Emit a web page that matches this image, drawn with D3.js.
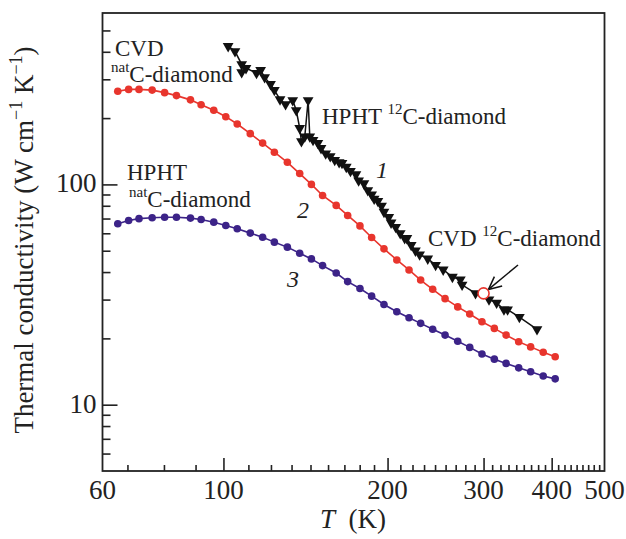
<!DOCTYPE html>
<html>
<head>
<meta charset="utf-8">
<script src="https://cdn.jsdelivr.net/npm/d3@7"></script>
<style>
  body { margin: 0; background: #fff; }
  svg text { font-family: "Liberation Serif", "Times New Roman", serif; fill: #222; }
</style>
</head>
<body>
<svg id="chart" width="626" height="539"></svg>
<script>
// temperatures (K) of the sampled points of curves 2 and 3
const tempNat = [64, 67, 70, 74, 78, 82, 87, 91, 96, 101, 106, 112, 118, 124, 131, 138, 145, 152, 161,
                 169, 178, 187, 197, 208, 219, 230, 242, 255, 269, 283, 298, 314, 330, 348, 366, 386, 406]
// curve 2: CVD natC-diamond (W cm-1 K-1)
const kCvdNat = [265, 270, 270, 268, 261, 253, 242, 230, 217, 203, 188, 170, 154, 140, 126, 112, 100, 89.1, 80.3,
                 72.3, 64.8, 57.4, 51.0, 45.4, 40.9, 36.8, 33.4, 30.3, 27.8, 25.8, 23.8, 22.2, 20.7, 19.3, 18.3, 17.3, 16.5]
// curve 3: HPHT natC-diamond
const kHphtNat = [66.3, 68.6, 69.9, 70.6, 71.0, 71.0, 70.3, 69.3, 67.4, 65.1, 62.9, 60.1, 57.6, 54.7, 51.9, 48.7, 45.9, 42.8, 39.6,
                  36.2, 33.7, 31.1, 28.5, 26.4, 24.8, 23.4, 22.0, 20.7, 19.4, 18.2, 17.0, 16.1, 15.4, 14.7, 14.1, 13.5, 13.1]
// curve 1: HPHT 12C-diamond, in measurement order
const temp12 = [102, 105, 108, 108, 110, 115, 117, 119, 122, 124, 127, 130, 134, 136, 138, 139, 141, 143, 144, 146,
                149, 151, 154, 157, 160, 163, 165, 168, 171, 175, 177, 181, 184, 187, 189, 192, 195, 197, 201, 203,
                207, 211, 215, 217, 221, 225, 229, 237, 245, 253, 263, 272, 274, 290, 307, 317, 327, 332, 349, 376]
const k12 = [424, 402, 351, 323, 337, 320, 330, 306, 285, 268, 243, 231, 241, 217, 180, 157, 165, 241, 165, 159,
             154, 146, 138, 134, 129, 126, 125, 120, 115, 111, 104, 101, 94, 90, 86, 84, 80, 75, 71, 67,
             64, 60, 57, 57, 53, 50, 48, 46, 43, 41, 38, 37, 35, 32, 30, 29, 27, 27, 25, 22]
// CVD 12C-diamond single point
const cvd12 = {T: 300, k: 32}

const xMajor = [60, 100, 200, 300, 400, 500]
const yMajor = [10, 100]
const yMinor = [6, 7, 8, 9, 20, 30, 40, 50, 60, 70, 80, 90, 200, 300, 400, 500]

const red = "#e8352d"
const purple = "#3c2388"

const svg = d3.select("#chart")
const mLeft = 102.5, mRight = 604.5, mTop = 13, mBottom = 471

const x = d3.scaleLog().domain([60, 500]).range([mLeft, mRight])
const y = d3.scaleLog().domain([5, 600]).range([mBottom, mTop])

// minor ticks on T axis sit every 100/9 K
let xMinor = []
for (let k = 6; k <= 45; k++) {
    if (k % 9 !== 0) xMinor.push(k * 100 / 9)
}

// ---- axes ----
const gx = svg.append("g").attr("transform", `translate(0,${mBottom})`)
gx.append("g").call(d3.axisBottom(x).tickValues(xMinor).tickSize(-6).tickFormat(""))
gx.append("g").call(d3.axisBottom(x).tickValues(xMajor.slice(1, 5)).tickSize(-13).tickFormat(""))
gx.selectAll("path.domain").remove()

const gy = svg.append("g").attr("transform", `translate(${mLeft},0)`)
gy.append("g").call(d3.axisLeft(y).tickValues(yMinor).tickSize(-8).tickFormat(""))
gy.append("g").call(d3.axisLeft(y).tickValues(yMajor).tickSize(-15).tickFormat(""))
gy.selectAll("path.domain").remove()
svg.selectAll(".tick line").attr("stroke", "#222").attr("stroke-width", 1.6)

// frame
svg.append("rect")
    .attr("x", mLeft).attr("y", mTop)
    .attr("width", mRight - mLeft).attr("height", mBottom - mTop)
    .attr("fill", "none").attr("stroke", "#222").attr("stroke-width", 1.8)

// tick labels
svg.append("g").selectAll("text")
    .data(xMajor)
    .join("text")
    .attr("x", d => x(d))
    .attr("y", 499)
    .attr("text-anchor", "middle")
    .attr("font-size", 27)
    .text(d => d)

svg.append("g").selectAll("text")
    .data(yMajor)
    .join("text")
    .attr("x", mLeft - 6)
    .attr("y", d => y(d) + 8)
    .attr("text-anchor", "end")
    .attr("font-size", 27)
    .text(d => d)

// axis titles
const xt = svg.append("text").attr("x", 320).attr("y", 528).attr("font-size", 27)
xt.append("tspan").attr("font-style", "italic").text("T")
xt.append("tspan").text("\u2002(K)")

const yt = svg.append("text")
    .attr("transform", "translate(33,240) rotate(-90)")
    .attr("text-anchor", "middle")
    .attr("font-size", 27)
yt.append("tspan").text("Thermal conductivity (W cm")
yt.append("tspan").attr("dy", -11).attr("font-size", 18).text("\u22121")
yt.append("tspan").attr("dy", 11).text(" K")
yt.append("tspan").attr("dy", -11).attr("font-size", 18).text("\u22121")
yt.append("tspan").attr("dy", 11).text(")")

// ---- curves ----
const line = d3.line().x(d => x(d[0])).y(d => y(d[1]))

function dotted(temps, vals, color) {
    const pts = temps.map((t, i) => [t, vals[i]])
    svg.append("path").datum(pts)
        .attr("d", line)
        .attr("fill", "none")
        .attr("stroke", color)
        .attr("stroke-width", 1.6)
    svg.append("g").selectAll("circle")
        .data(pts)
        .join("circle")
        .attr("cx", d => x(d[0]))
        .attr("cy", d => y(d[1]))
        .attr("r", 3.8)
        .attr("fill", color)
}
dotted(tempNat, kCvdNat, red)
dotted(tempNat, kHphtNat, purple)

// curve 1 with down triangles
const pts12 = temp12.map((t, i) => [t, k12[i]])
svg.append("path").datum(pts12)
    .attr("d", line)
    .attr("fill", "none")
    .attr("stroke", "#111")
    .attr("stroke-width", 1.5)
svg.append("g").selectAll("path")
    .data(pts12)
    .join("path")
    .attr("d", d3.symbol(d3.symbolTriangle, 50))
    .attr("transform", d => `translate(${x(d[0])},${y(d[1])}) rotate(180)`)
    .attr("fill", "#111")

// CVD 12C point
svg.append("circle")
    .attr("cx", x(cvd12.T)).attr("cy", y(cvd12.k))
    .attr("r", 5.5)
    .attr("fill", "#fff")
    .attr("stroke", red)
    .attr("stroke-width", 1.6)

// arrow to it
const ax0 = 518, ay0 = 265, ax1 = x(cvd12.T) + 5, ay1 = y(cvd12.k) - 4
svg.append("line")
    .attr("x1", ax0).attr("y1", ay0).attr("x2", ax1).attr("y2", ay1)
    .attr("stroke", "#111").attr("stroke-width", 1.5)
const ang = Math.atan2(ay1 - ay0, ax1 - ax0)
;[0.45, -0.45].forEach(a => {
    svg.append("line")
        .attr("x1", ax1).attr("y1", ay1)
        .attr("x2", ax1 - 14 * Math.cos(ang + a))
        .attr("y2", ay1 - 14 * Math.sin(ang + a))
        .attr("stroke", "#111").attr("stroke-width", 1.5)
})

// ---- annotations ----
function label(px, py, parts) {
    const t = svg.append("text").attr("x", px).attr("y", py).attr("font-size", 23)
    parts.forEach(p => {
        const s = t.append("tspan").text(p.s)
        if (p.sup) s.attr("font-size", 15).attr("dy", -10)
        if (p.back) s.attr("dy", 10)
    })
    return t
}
label(115, 56, [{s: "CVD"}])
label(111, 82, [{s: "nat", sup: true}, {s: "C-diamond", back: true}])
label(127, 180, [{s: "HPHT"}])
label(129, 207, [{s: "nat", sup: true}, {s: "C-diamond", back: true}])
label(322, 124, [{s: "HPHT "}, {s: "12", sup: true}, {s: "C-diamond", back: true}])
label(428, 246, [{s: "CVD "}, {s: "12", sup: true}, {s: "C-diamond", back: true}])

const nums = [["1", 376, 178], ["2", 297, 218], ["3", 287, 287]]
svg.append("g").selectAll("text")
    .data(nums)
    .join("text")
    .attr("x", d => d[1]).attr("y", d => d[2])
    .attr("font-size", 24)
    .attr("font-style", "italic")
    .text(d => d[0])
</script>
</body>
</html>
